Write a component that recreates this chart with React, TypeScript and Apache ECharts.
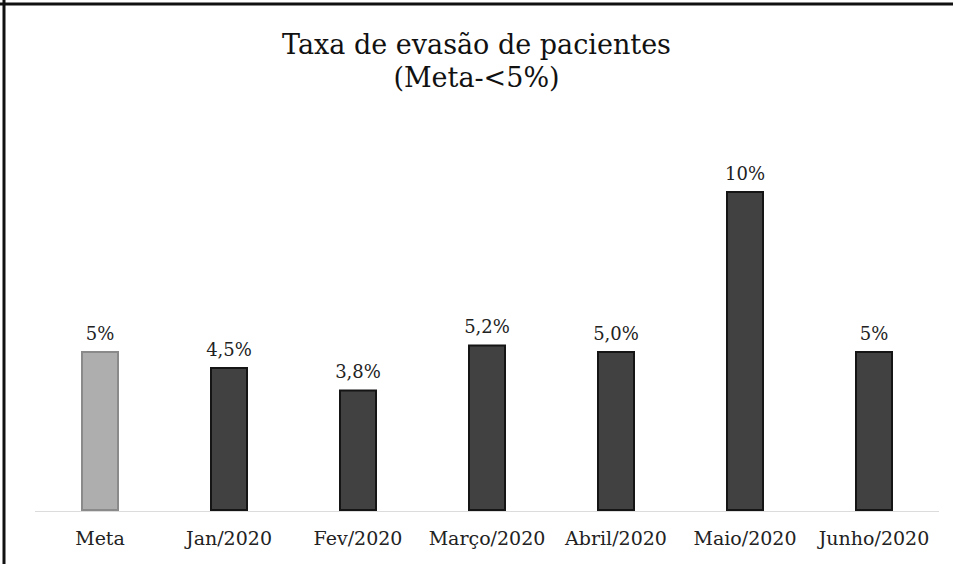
import React, { useEffect, useRef } from "react";
import * as echarts from "echarts";

const categories = ["Meta", "Jan/2020", "Fev/2020", "Março/2020", "Abril/2020", "Maio/2020", "Junho/2020"];
const values = [5, 4.5, 3.8, 5.2, 5.0, 10, 5];
const valueLabels = ["5%", "4,5%", "3,8%", "5,2%", "5,0%", "10%", "5%"];
const barColors = ["#aeaeae", "#414141", "#414141", "#414141", "#414141", "#414141", "#414141"];
const barBorders = ["#8a8a8a", "#151515", "#151515", "#151515", "#151515", "#151515", "#151515"];

export default function App() {
  const ref = useRef<HTMLDivElement>(null);
  useEffect(() => {
    if (!ref.current) return;
    const chart = echarts.init(ref.current, null, { renderer: "svg" });
    chart.setOption({
      animation: false,
      backgroundColor: "#ffffff",
      title: {
        text: "Taxa de evasão de pacientes\n(Meta-<5%)",
        left: "center",
        top: 23,
        textStyle: {
          fontFamily: "DejaVu Serif",
          fontSize: 27,
          fontWeight: "normal",
          color: "#111",
          lineHeight: 33,
        },
      },
      grid: { left: 35.5, right: 14.5, top: 127, bottom: 53 },
      xAxis: {
        type: "category",
        data: categories,
        axisTick: { show: false },
        axisLine: { show: true, lineStyle: { color: "#d8d8d8", width: 1, type: "dotted" } },
        axisLabel: {
          interval: 0,
          margin: 17,
          fontFamily: "DejaVu Serif",
          fontSize: 19,
          color: "#222",
        },
      },
      yAxis: {
        type: "value",
        min: 0,
        max: 12,
        show: false,
        splitLine: { show: false },
      },
      series: [
        {
          type: "bar",
          barWidth: 38,
          data: values.map((v, i) => ({
            value: v,
            itemStyle: { color: barColors[i], borderColor: barBorders[i], borderWidth: 2 },
            label: { formatter: valueLabels[i] },
          })),
          label: {
            show: true,
            position: "top",
            distance: 9,
            fontFamily: "DejaVu Serif",
            fontSize: 18,
            color: "#222",
          },
        },
      ],
      graphic: [
        { type: "line", shape: { x1: 4, y1: 0, x2: 4, y2: 564 }, style: { stroke: "#111", lineWidth: 3 } },
        { type: "line", shape: { x1: 0, y1: 4, x2: 953, y2: 4 }, style: { stroke: "#111", lineWidth: 3 } },
      ],
    });
    return () => chart.dispose();
  }, []);
  return <div ref={ref} style={{ position: "fixed", left: 0, top: 0, width: 953, height: 564 }} />;
}
